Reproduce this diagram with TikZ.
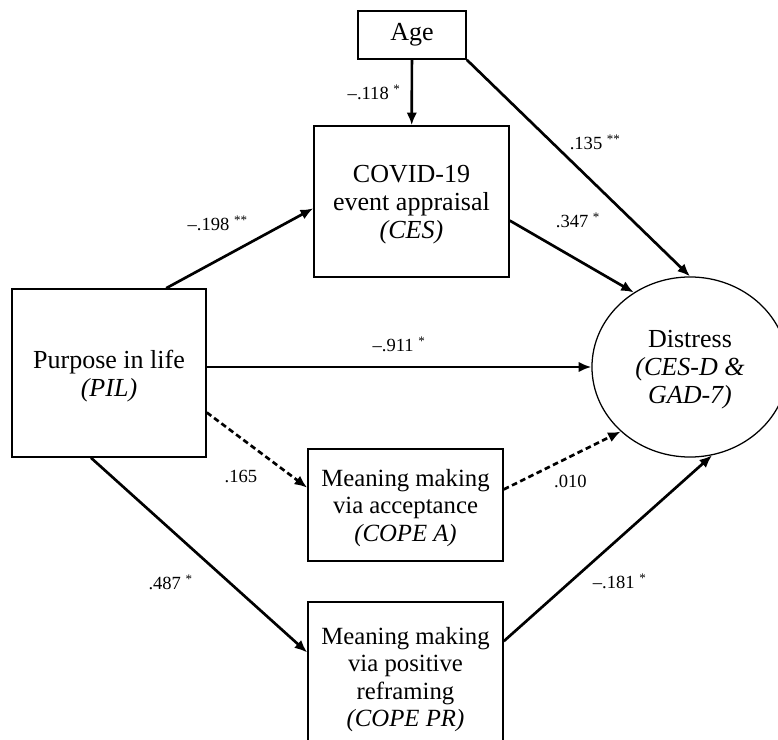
\documentclass[tikz,border=0pt]{standalone}
\usepackage{fontspec}
\setmainfont{Liberation Serif}
\usetikzlibrary{shapes.geometric,arrows.meta}

\begin{document}
\begin{tikzpicture}
  [x=0.025cm, y=-0.025cm, >={Latex[length=9pt,width=7.5pt]},
   var/.style={rectangle,draw,line width=1.1pt,align=center,
               font=\fontsize{18.5}{19.9}\selectfont},
   multi/.style={text depth=-4pt},
   small/.style={font=\fontsize{17.6}{19.6}\selectfont},
   link/.style={->,line width=1.9pt},
   broken/.style={dash pattern=on 4pt off 2.5pt},
   coef/.style={inner sep=0pt,font=\fontsize{13.2}{15}\selectfont}]
  \useasboundingbox (0,0) rectangle (778,740);
  \clip (0,0) rectangle (778,740);

  \node[var,minimum width=2.7cm,minimum height=1.2cm] (age) at (412,35) {Age};
  \node[var,multi,minimum width=4.875cm,minimum height=3.775cm] (ces) at (411.5,201.5)
       {COVID-19\\event appraisal\\\textit{(CES)}};
  \node[var,multi,minimum width=4.85cm,minimum height=4.2cm] (pil) at (109,373)
       {Purpose in life\\\textit{(PIL)}};
  \node[var,multi,small,minimum width=4.875cm,minimum height=2.8cm] (copea) at (405.5,505)
       {Meaning making\\via acceptance\\\textit{(COPE A)}};
  \node[var,multi,small,minimum width=4.875cm,minimum height=3.75cm] (copepr) at (405.5,677)
       {Meaning making\\via positive\\reframing\\\textit{(COPE PR)}};
  \node[var,multi,ellipse,line width=0.9pt,minimum width=4.9cm,minimum height=4.5cm,
        inner sep=0pt] (distress) at (690,367)
       {Distress\\\textit{(CES-D \&}\\\textit{GAD-7)}};

  \draw[link] (age) -- node[coef,left=7pt] {--.118 \textsuperscript{*}} (ces);
  \draw[link] (age.south east) -- node[coef,pos=0.38,right=12pt]
       {.135 \textsuperscript{**}} (distress.north);
  \draw[link] (pil.56) -- node[coef,pos=0.35,above=20pt]
       {--.198 \textsuperscript{**}} (ces.184);
  \draw[link] (ces.-11) -- node[coef,pos=0.55,above=22pt]
       {.347 \textsuperscript{*}} (distress.127);
  \draw[link] (pil.east |- distress.west) -- node[coef,above=10pt]
       {--.911 \textsuperscript{*}} (distress.west);
  \draw[link,broken] (pil.-22) -- node[coef,pos=0.34,below=22pt] {.165} (copea.170);
  \draw[link,broken] (copea.9) -- node[coef,pos=0.57,below=12pt] {.010} (distress.223);
  \draw[link] (pil.258) -- node[coef,pos=0.64,left=25pt]
       {.487 \textsuperscript{*}} (copepr.166);
  \draw[link] (copepr.20) -- node[coef,pos=0.32,right=15pt]
       {--.181 \textsuperscript{*}} (distress.284);
\end{tikzpicture}
\end{document}
